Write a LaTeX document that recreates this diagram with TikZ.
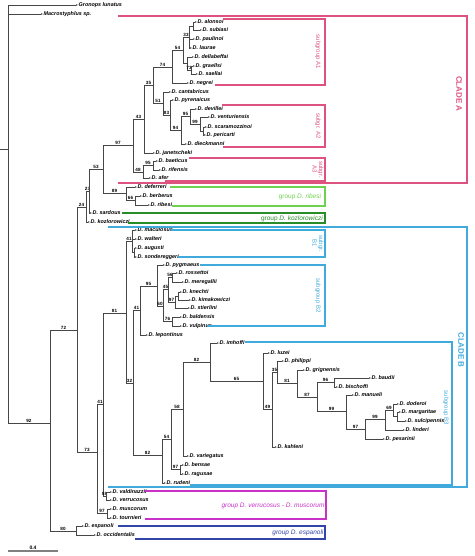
\documentclass[tikz,border=0pt]{standalone}
\usepackage{fontspec}
\setmainfont{Liberation Sans}
\usetikzlibrary{arrows.meta}
\definecolor{treegray}{RGB}{70,70,70}
\definecolor{cA}{RGB}{222,82,128}
\definecolor{cB}{RGB}{64,170,220}
\definecolor{cRib}{RGB}{110,210,80}
\definecolor{cKoz}{RGB}{40,140,40}
\definecolor{cVer}{RGB}{200,50,200}
\definecolor{cEsp}{RGB}{50,70,170}
\newcommand\tnode[5]{\coordinate (#1) at (#3,#4); \draw[br] (#2) |- node[bs]{#5} (#1);}
\newcommand\tleaf[5]{\node[sp] (#1) at (#3,#4) {#5}; \draw[lf] (#2) |- (#1.west);}
\begin{document}
\begin{tikzpicture}[x=1pt,y=-1pt,
  br/.style={draw=treegray, line width=0.65pt},
  lf/.style={br, -{Latex[length=1.9pt,width=1.7pt]}},
  sp/.style={anchor=west, inner sep=0.5pt, font=\fontsize{5.4}{6}\selectfont\bfseries\itshape},
  bs/.style={pos=0.75, above, inner sep=0.5pt, font=\fontsize{4.6}{5}\selectfont\bfseries},
  grpbox/.style={line width=1.2pt},
  sublab/.style={rotate=-90, align=center, font=\fontsize{6}{6.5}\selectfont},
  cladelab/.style={rotate=-90, font=\fontsize{8}{9}\selectfont\bfseries},
  grplab/.style={font=\fontsize{6.5}{7}\selectfont}]
\useasboundingbox (0,0) rectangle (474,556);
% root
\coordinate (root) at (8,149);
\coordinate (rootbase) at (0,149);
\draw[br] (rootbase) -- (root);
\tleaf{gronops}{root}{78}{5}{Gronops lunatus}
\tleaf{macro}{root}{43}{14}{Macrostyphlus sp.}
\tnode{n92}{root}{50}{423}{92}
\tnode{n72}{n92}{77}{330}{72}
\tnode{n80}{n92}{76}{531}{80}
\tleaf{espanoli}{n80}{84}{526}{D. espanoli}
\tleaf{occidentalis}{n80}{96}{535}{D. occidentalis}
\tnode{n24}{n72}{86}{207}{24}
\tnode{n73b}{n72}{97}{452}{73}
\tnode{n23}{n24}{89}{191}{23}
\tleaf{kozl}{n24}{90}{222}{D. kozlorowiczi}
\tnode{n53}{n23}{103}{169}{53}
\tleaf{sardous}{n23}{92}{213}{D. sardous}
\tnode{n97}{n53}{133}{145}{97}
\tnode{n89}{n53}{126}{193.5}{89}
\tnode{n43}{n97}{144}{119}{43}
\tnode{n48}{n97}{143}{172}{48}
\tnode{n35}{n43}{153}{85}{35}
\tleaf{janetscheki}{n43}{155}{153}{D. janetscheki}
\tnode{n74}{n35}{172}{67}{74}
\tnode{n51}{n35}{163}{103}{51}
\tnode{n54}{n74}{183}{50}{54}
\tleaf{negrei}{n74}{189}{83}{D. negrei}
\tnode{n33}{n54}{189}{37}{33}
\tnode{nX}{n54}{187}{63}{}
\tnode{nas}{n33}{193}{26}{}
\tleaf{alonsoi}{nas}{197}{22}{D. alonsoi}
\tleaf{subiasi}{nas}{202}{30}{D. subiasi}
\tleaf{paulinoi}{n33}{195}{39}{D. paulinoi}
\tleaf{laurae}{n33}{192}{48}{D. laurae}
\tleaf{dellabeffai}{nX}{194}{57}{D. dellabeffai}
\tnode{ngs}{nX}{191}{70}{73}
\tleaf{graellsi}{ngs}{195}{66}{D. graellsi}
\tleaf{saellai}{ngs}{198}{74}{D. saellai}
% A2
\tleaf{cantabricus}{n51}{171}{92}{D. cantabricus}
\tnode{n83}{n51}{170}{115}{83}
\tleaf{pyrenaicus}{n83}{174}{100}{D. pyrenaicus}
\tnode{n94}{n83}{181}{130}{94}
\tnode{n95}{n94}{190}{116}{95}
\tleaf{dieckmanni}{n94}{187}{144}{D. dieckmanni}
\tleaf{devillei}{n95}{197}{109}{D. devillei}
\tnode{n99}{n95}{200}{124}{99}
\tleaf{venturiensis}{n99}{210}{117}{D. venturiensis}
\tnode{nsp}{n99}{203}{131}{}
\tleaf{scaramozzinoi}{nsp}{207}{127}{D. scaramozzinoi}
\tleaf{pericarti}{nsp}{206}{135}{D. pericarti}
% A3
\tnode{n95b}{n48}{153}{165.5}{95}
\tleaf{afer}{n48}{151}{178}{D. afer}
\tleaf{baeticus}{n95b}{158}{161}{D. baeticus}
\tleaf{rifensis}{n95b}{161}{170}{D. rifensis}
% ribesi group
\tleaf{deferreri}{n89}{137}{187}{D. deferreri}
\tnode{n66}{n89}{135}{200}{66}
\tleaf{berberus}{n66}{142}{196}{D. berberus}
\tleaf{ribesi}{n66}{150}{205}{D. ribesi}
% clade B and verrucosus group
\tnode{n41}{n73b}{103}{404}{41}
\tnode{n97v}{n73b}{107}{513}{97}
\tnode{n81}{n41}{126}{313}{81}
\tnode{n58v}{n41}{106}{496}{58}
\tleaf{valdinazzii}{n58v}{112}{492}{D. valdinazzii}
\tleaf{verrucosus}{n58v}{112}{500}{D. verrucosus}
\tleaf{muscorum}{n97v}{112}{509}{D. muscorum}
\tleaf{tournieri}{n97v}{112}{518}{D. tournieri}
\tnode{n41a}{n81}{132}{241}{41}
\tnode{n32}{n81}{133}{383}{32}
\tleaf{maculosus}{n41a}{137}{230}{D. maculosus}
\tleaf{walteri}{n41a}{137}{239}{D. walteri}
\tnode{nas2}{n41a}{134}{252.5}{}
\tleaf{augusti}{nas2}{137}{248}{D. augusti}
\tleaf{sondereggeri}{nas2}{137}{257}{D. sondereggeri}
\tnode{n41c}{n32}{140}{310.5}{41}
\tnode{n82a}{n32}{162}{455}{82}
\tnode{n95c}{n41c}{157}{286}{95}
\tleaf{lepontinus}{n41c}{148}{335}{D. lepontinus}
\tleaf{pygmaeus}{n95c}{165}{265}{D. pygmaeus}
\tnode{n60}{n95c}{163}{306}{60}
\tnode{n45}{n60}{168}{289}{45}
\tnode{n76}{n60}{172}{321.5}{76}
\tnode{n56}{n45}{172}{277.5}{56}
\tnode{n97c}{n45}{175}{302}{97}
\tleaf{rossettoi}{n56}{178}{273}{D. rossettoi}
\tleaf{meregallii}{n56}{184}{282}{D. meregallii}
\tnode{nkk}{n97c}{178}{296}{}
\tleaf{stierlini}{n97c}{190}{308}{D. stierlini}
\tleaf{knechti}{nkk}{182}{292}{D. knechti}
\tleaf{kimakowiczi}{nkk}{191}{300}{D. kimakowiczi}
\tleaf{baldensis}{n76}{182}{317}{D. baldensis}
\tleaf{vulpinus}{n76}{182}{326}{D. vulpinus}
\tnode{n54b}{n82a}{171}{439}{54}
\tleaf{rudeni}{n82a}{166}{483}{D. rudeni}
\tnode{n58b}{n54b}{183}{409.5}{58}
\tnode{n97d}{n54b}{180}{469.5}{97}
\tleaf{variegatus}{n58b}{189}{456}{D. variegatus}
\tleaf{bensae}{n97d}{184}{465}{D. bensae}
\tleaf{ragusae}{n97d}{184}{474}{D. ragusae}
\tnode{n82b}{n58b}{210}{362}{82}
\tleaf{imhoffi}{n82b}{219}{343}{D. imhoffi}
\tnode{n65}{n82b}{263}{381}{65}
\tleaf{luzei}{n65}{270}{353}{D. luzei}
\tnode{n49}{n65}{272}{409.5}{49}
\tnode{n35b}{n49}{277}{372}{35}
\tleaf{kahleni}{n49}{277}{447}{D. kahleni}
\tleaf{philippi}{n35b}{284}{361}{D. philippi}
\tnode{n81b}{n35b}{297}{383.5}{81}
\tleaf{grignensis}{n81b}{305}{370}{D. grignensis}
\tnode{n87}{n81b}{317}{397}{87}
\tnode{n96}{n87}{334}{382.5}{96}
\tnode{n99b}{n87}{346}{411}{99}
\tleaf{baudii}{n96}{371}{378}{D. baudii}
\tleaf{bischoffi}{n96}{338}{387}{D. bischoffi}
\tleaf{manueli}{n99b}{354}{395}{D. manueli}
\tnode{n97e}{n99b}{365}{429.5}{97}
\tnode{n99c}{n97e}{385}{419.5}{99}
\tleaf{pesarinii}{n97e}{385}{439}{D. pesarinii}
\tnode{n69}{n99c}{393}{410}{69}
\tleaf{linderi}{n99c}{405}{430}{D. linderi}
\tleaf{doderoi}{n69}{399}{404}{D. doderoi}
\tnode{nms}{n69}{397}{416.5}{}
\tleaf{margaritae}{nms}{401}{412}{D. margaritae}
\tleaf{sulcipennis}{nms}{407}{421}{D. sulcipennis}
% scale bar
\coordinate (sb1) at (8,551);
\coordinate (sb2) at (58,551);
\draw[draw=gray, line width=1.2pt] (sb1) -- node[above, inner sep=0.8pt, font=\fontsize{5}{6}\selectfont\bfseries]{0.4} (sb2);
% boxes
\draw[grpbox, draw=cA] (118,16) -- (467,16) -- (467,183) -- (118,183);
\draw[grpbox, draw=cA] (223,19) -- (325,19) -- (325,85) -- (215,85);
\draw[grpbox, draw=cA] (222,105) -- (325,105) -- (325,147) -- (223,147);
\draw[grpbox, draw=cA] (189,158) -- (325,158) -- (325,181) -- (165,181);
\draw[grpbox, draw=cRib] (170,187) -- (325,187) -- (325,206) -- (172,206);
\draw[grpbox, draw=cKoz] (122,213) -- (325,213) -- (325,223) -- (128,223);
\draw[grpbox, draw=cB] (108,227) -- (467,227) -- (467,487) -- (108,487);
\draw[grpbox, draw=cB] (171,230) -- (325,230) -- (325,257) -- (178,257);
\draw[grpbox, draw=cB] (200,265) -- (325,265) -- (325,326) -- (207,326);
\draw[grpbox, draw=cB] (245,342) -- (452,342) -- (452,485) -- (190,485);
\draw[grpbox, draw=cVer] (145,491) -- (326,491) -- (326,519) -- (145,519);
\draw[grpbox, draw=cEsp] (118,526) -- (325,526) -- (325,539) -- (135,539);
% box labels
\node[cladelab, cA] (labA) at (459,94) {CLADE A};
\node[sublab, cA] (labA1) at (318,52) {subgroup A1};
\node[sublab, cA] (labA2) at (318,126) {subgr. A2};
\node[sublab, cA] (labA3) at (318,169.5) {subgr.\\A3};
\node[grplab, cRib] (labRib) at (300,197) {group \textit{D. ribesi}};
\node[grplab, cKoz] (labKoz) at (292,218.5) {group \textit{D. kozlorowiczi}};
\node[cladelab, cB] (labB) at (461,350) {CLADE B};
\node[sublab, cB] (labB1) at (318,243.5) {subgr.\\B1};
\node[sublab, cB] (labB2) at (318,295.5) {subgroup B2};
\node[sublab, cB] (labB3) at (446,408) {subgroup B3};
\node[grplab, cVer] (labVer) at (273,506) {\textit{group D. verrucosus - D. muscorum}};
\node[grplab, cEsp] (labEsp) at (298,533) {\textit{group D. espanoli}};
\end{tikzpicture}
\end{document}
